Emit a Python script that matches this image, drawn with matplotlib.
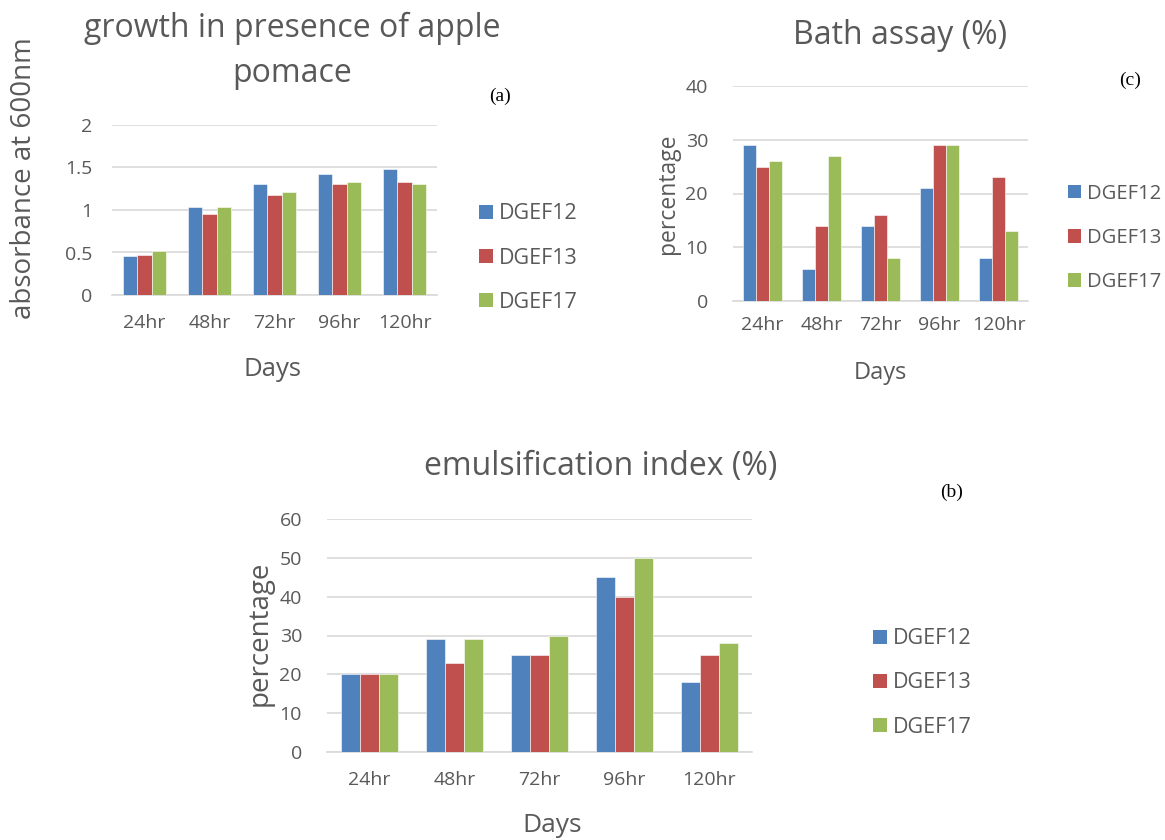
import matplotlib
matplotlib.use('Agg')
import matplotlib.pyplot as plt
import numpy as np
from matplotlib.patches import Patch

plt.rcParams['font.family'] = ['Open Sans', 'DejaVu Sans']

days = ['24hr', '48hr', '72hr', '96hr', '120hr']
series = ['DGEF12', 'DGEF13', 'DGEF17']
colors = ['#4F81BD', '#C0504D', '#9BBB59']

growth_12 = [0.46, 1.04, 1.31, 1.42, 1.48]
growth_13 = [0.47, 0.95, 1.18, 1.30, 1.33]
growth_17 = [0.52, 1.04, 1.21, 1.33, 1.30]

bath_12 = [29, 6, 14, 21, 8]
bath_13 = [25, 14, 16, 29, 23]
bath_17 = [26, 27, 8, 29, 13]

emul_12 = [20, 29, 25, 45, 18]
emul_13 = [20, 23, 25, 40, 25]
emul_17 = [20, 29, 30, 50, 28]

W, H = 1165, 840
fig = plt.figure(figsize=(W / 100, H / 100), dpi=100)
grey = '#595959'


def px_axes(x0, y0, x1, y1):
    # pixel box (top-left origin) -> figure axes
    return fig.add_axes([x0 / W, 1 - y1 / H, (x1 - x0) / W, (y1 - y0) / H])


def ftext(x, y, s, **kw):
    fig.text(x / W, 1 - y / H, s, ha='center', va='center', **kw)


def bar_panel(ax, data, ymax, ystep, tick_fs, xpad, ypad, fmt=None):
    x = np.arange(len(days))
    bw = 0.222
    for i, (vals, c) in enumerate(zip(data, colors)):
        ax.bar(x + (i - 1) * bw, vals, bw, color=c, edgecolor='white',
               linewidth=0.4, zorder=3)
    ax.set_xlim(-0.5, len(days) - 0.5)
    ax.set_ylim(0, ymax)
    ticks = np.arange(0, ymax + ystep / 2, ystep)
    ax.set_yticks(ticks)
    if fmt:
        ax.set_yticklabels([fmt(t) for t in ticks])
    ax.set_xticks(x)
    ax.set_xticklabels(days)
    ax.grid(axis='y', color='#D9D9D9', linewidth=1.2, zorder=0)
    for s in ['top', 'right', 'left']:
        ax.spines[s].set_visible(False)
    ax.spines['bottom'].set_color('#D9D9D9')
    ax.spines['bottom'].set_linewidth(1.2)
    ax.tick_params(axis='both', length=0, colors=grey, labelsize=tick_fs)
    ax.tick_params(axis='x', pad=xpad)
    ax.tick_params(axis='y', pad=ypad)


def legend_at(ax, x, y, fs, spacing):
    handles = [Patch(facecolor=c, label=s) for c, s in zip(colors, series)]
    leg = ax.legend(handles=handles, loc='center left',
                    bbox_to_anchor=(x / W, 1 - y / H),
                    bbox_transform=fig.transFigure, frameon=False,
                    fontsize=fs, handlelength=0.65, handleheight=0.65,
                    handletextpad=0.3, labelspacing=spacing, borderpad=0)
    for t in leg.get_texts():
        t.set_color(grey)


def fmt_a(v):
    return '0' if v == 0 else ('%g' % v)


# (a) growth
ax_a = px_axes(112, 125, 437, 295)
bar_panel(ax_a, [growth_12, growth_13, growth_17], 2, 0.5, 14, 14, 14, fmt_a)
legend_at(ax_a, 468, 258, 15.5, 1.08)
ftext(292, 28, 'growth in presence of apple', fontsize=23, color=grey)
ftext(292, 73, 'pomace', fontsize=23, color=grey)
ftext(24, 178, 'absorbance at 600nm', fontsize=20, color=grey, rotation=90)
ftext(273, 370, 'Days', fontsize=18.5, color=grey)
ftext(500, 96, '(a)', fontsize=14, family='Liberation Serif', color='black')

# (c) bath assay
ax_c = px_axes(733, 86, 1028, 301)
bar_panel(ax_c, [bath_12, bath_13, bath_17], 40, 10, 14, 11, 18)
legend_at(ax_c, 1058, 238, 14.5, 1.2)
ftext(900, 35, 'Bath assay (%)', fontsize=23, color=grey)
ftext(668, 194, 'percentage', fontsize=16.5, color=grey, rotation=90)
ftext(880, 373, 'Days', fontsize=17, color=grey)
ftext(1130, 80, '(c)', fontsize=14, family='Liberation Serif', color='black')

# (b) emulsification
ax_b = px_axes(327, 519, 752, 752)
bar_panel(ax_b, [emul_12, emul_13, emul_17], 60, 10, 14, 14, 18)
legend_at(ax_b, 862, 683, 15.5, 1.08)
ftext(601, 466, 'emulsification index (%)', fontsize=23, color=grey)
ftext(260, 633, 'percentage', fontsize=20, color=grey, rotation=90)
ftext(552, 825, 'Days', fontsize=19, color=grey)
ftext(952, 492, '(b)', fontsize=14, family='Liberation Serif', color='black')

fig.savefig('out.png', dpi=100, facecolor='white')
